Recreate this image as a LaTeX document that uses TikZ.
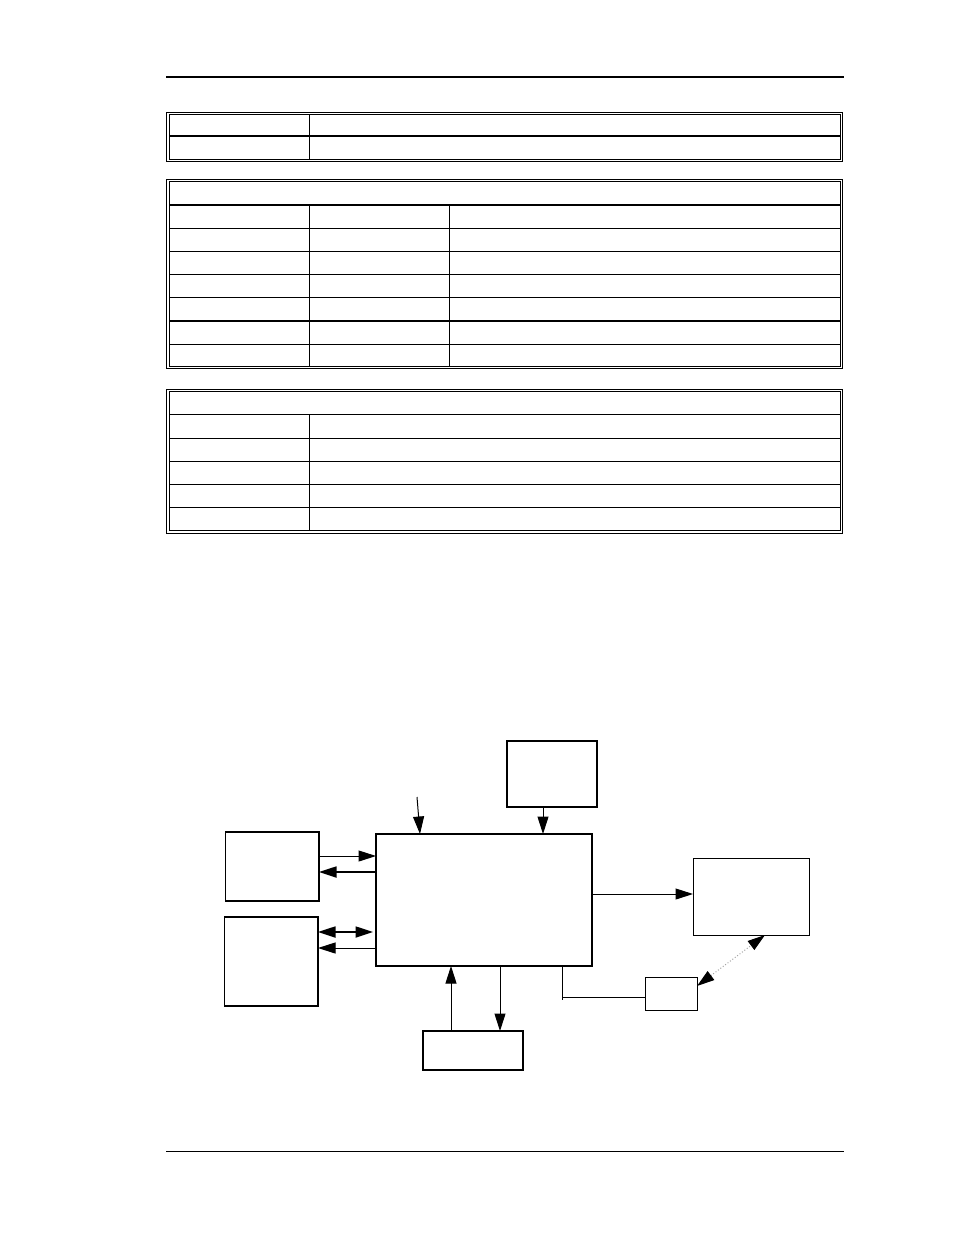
\documentclass[tikz,border=0pt]{standalone}
\usetikzlibrary{arrows.meta,calc}
\begin{document}
\begin{tikzpicture}[x=1pt,y=-1pt,
  thinline/.style={line width=0.8pt},
  thickline/.style={line width=2pt},
  boxthin/.style={draw,line width=1pt,inner sep=0pt,outer sep=0pt,anchor=north west},
  boxthick/.style={draw,line width=1.8pt,inner sep=0pt,outer sep=0pt,anchor=north west},
  tip/.style={Triangle[length=17.5pt,width=11pt]},
  arr/.style={line width=1pt,-{Triangle[length=17.5pt,width=11pt]}},
  arrthick/.style={line width=1.8pt,-{Triangle[length=17.5pt,width=11pt]}},
  darr/.style={line width=1.8pt,{Triangle[length=17.5pt,width=11pt]}-{Triangle[length=17.5pt,width=11pt]}},
  dotarr/.style={draw=gray!70,dotted,line width=1pt,{Triangle[length=17.5pt,width=11pt,color=black,fill=black]}-{Triangle[length=17.5pt,width=11pt,color=black,fill=black]}}
]
\useasboundingbox[fill=white] (0,0) rectangle (954,1235);
% header / footer
\draw[line width=2pt] (166,77) -- (844,77);
\draw[line width=1pt] (166,1151) -- (844,1151);
% table 1
\draw[thinline] (166.5,112.5) rectangle (842.5,161);
\draw[thinline] (169,114.7) rectangle (840,159);
\draw[thickline] (169,136) -- (840,136);
\draw[thinline] (309.5,114.7) -- (309.5,159);
% table 2
\draw[thinline] (166.5,179.3) rectangle (842.5,368.7);
\draw[thinline] (169,181.3) rectangle (840,366.7);
\draw[thickline] (169,204.5) -- (840,204.5);
\foreach \yy in {228.3,251.3,274.3,297.3,344.7} \draw[thinline] (169,\yy) -- (840,\yy);
\draw[thickline] (169,320.7) -- (840,320.7);
\draw[thinline] (309.5,204.5) -- (309.5,366.7);
\draw[thinline] (449.5,204.5) -- (449.5,366.7);
% table 3
\draw[thinline] (166.5,389) rectangle (842.5,533);
\draw[thinline] (169,391) rectangle (840,530.5);
\foreach \yy in {414.5,438.3,461.5,484.5,507.5} \draw[thinline] (169,\yy) -- (840,\yy);
\draw[thinline] (309.5,414.5) -- (309.5,530.5);
% diagram boxes
\node[boxthick,minimum width=216pt,minimum height=132pt] (main) at (376,834) {};
\node[boxthin,line width=1.2pt,minimum width=90pt,minimum height=66pt] (top) at (507,741) {};
\node[boxthick,minimum width=93.5pt,minimum height=69pt] (left1) at (225.5,832) {};
\node[boxthin,line width=1.3pt,minimum width=93.5pt,minimum height=89pt] (left2) at (224.5,917) {};
\node[boxthick,minimum width=100pt,minimum height=39pt] (bottom) at (423,1031) {};
\node[boxthin,minimum width=116pt,minimum height=77pt] (right) at (693,858) {};
\node[boxthin,minimum width=52pt,minimum height=33pt] (small) at (645,977) {};
\coordinate (diag) at (417,797);
% connectors
\draw[arr] (top.south -| 543,0) -- (main.north -| 543,0);
\draw[arr] (diag) -- (main.north -| 420,0);
\draw[arr] (left1.east |- 0,856) -- (main.west |- 0,856);
\draw[arrthick] (main.west |- 0,872) -- (left1.east |- 0,872);
\draw[darr] (left2.east |- 0,932) -- ($(main.west |- 0,932)+(-3,0)$);
\draw[arr] (main.west |- 0,948) -- (left2.east |- 0,948);
\draw[arr] (bottom.north -| 451,0) -- (main.south -| 451,0);
\draw[arr] (main.south -| 500,0) -- (bottom.north -| 500,0);
\draw[arr] (main.east |- 0,894) -- (right.west |- 0,894);
\draw[line width=1pt] (main.south -| 562,0) -- (562,1000);
\draw[line width=1pt] (562,997) -- (small.west |- 0,997);
\draw[dotarr] (small.east |- 0,986) -- (right.south -| 765,0);
\end{tikzpicture}
\end{document}
